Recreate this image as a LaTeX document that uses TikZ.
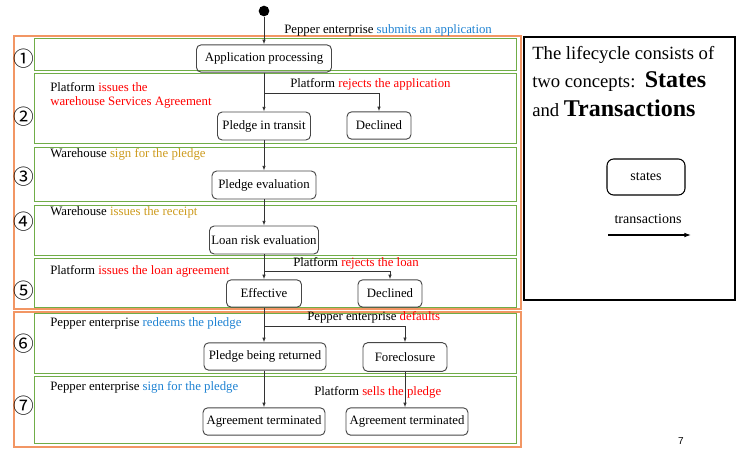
\documentclass[tikz,border=0pt]{standalone}
\usepackage{fontspec}
\setmainfont{Liberation Serif}
\newfontfamily\circfont{Noto Sans CJK SC}
\newfontfamily\pgsans{Liberation Sans}
\usetikzlibrary{arrows.meta}
\definecolor{grn}{RGB}{112,173,71}
\definecolor{orng}{RGB}{242,150,100}
\definecolor{blu}{RGB}{30,130,210}
\definecolor{rd}{RGB}{255,0,0}
\definecolor{gld}{RGB}{205,155,30}
\definecolor{edge}{RGB}{70,70,70}
\begin{document}
\begin{tikzpicture}[x=0.75pt,y=-0.75pt,
  statebox/.style={draw=edge, rounded corners=3.5pt, line width=0.7pt,
    font=\fontsize{9.6}{11}\selectfont, inner sep=0pt, minimum height=20.5pt},
  lbl/.style={font=\fontsize{9.6}{11}\selectfont, inner sep=0pt, anchor=west},
  num/.style={font=\circfont\fontsize{15.5}{15.5}\selectfont, inner sep=0pt},
  conn/.style={draw=black!80, line width=0.6pt, -{Latex[length=3.5pt,width=2.6pt]}},
  greenbox/.style={draw=grn, line width=0.75pt},
  orangebox/.style={draw=orng, line width=0.85pt}]
\useasboundingbox (0,0) rectangle (738,451);

% frames
\draw[orangebox] (14,36) rectangle (521,309);
\draw[orangebox] (14,312) rectangle (521,447);
\draw[greenbox] (34,38) rectangle (516,70);
\draw[greenbox] (34,73) rectangle (516,143);
\draw[greenbox] (34,147) rectangle (516,201);
\draw[greenbox] (34,205) rectangle (516,255);
\draw[greenbox] (34,258) rectangle (516,307);
\draw[greenbox] (34,313) rectangle (516,373);
\draw[greenbox] (34,376) rectangle (516,443);

% circled numbers
\node[num] (n1) at (24,59) {①};
\node[num] (n2) at (24,117) {②};
\node[num] (n3) at (24,177) {③};
\node[num] (n4) at (24,222) {④};
\node[num] (n5) at (24,291) {⑤};
\node[num] (n6) at (24,344) {⑥};
\node[num] (n7) at (24,406) {⑦};

% states
\node[circle, fill=black, minimum size=8pt, inner sep=0pt] (start) at (264,11) {};
\node[statebox, minimum width=101.25pt] (app) at (264,58.5) {Application processing};
\node[statebox, minimum width=69.75pt, minimum height=21pt] (pit) at (264,126) {Pledge in transit};
\node[statebox, minimum width=48pt] (dec1) at (379,125.5) {Declined};
\node[statebox, minimum width=78pt, minimum height=21pt] (pev) at (264,185) {Pledge evaluation};
\node[statebox, minimum width=81.75pt, minimum height=21pt] (lre) at (264,240) {Loan risk evaluation};
\node[statebox, minimum width=56.25pt] (eff) at (264,293.5) {Effective};
\node[statebox, minimum width=48pt] (dec2) at (390,293.5) {Declined};
\node[statebox, minimum width=91.5pt] (pbr) at (265,356.5) {Pledge being returned};
\node[statebox, minimum width=63pt, minimum height=21.5pt] (fc) at (405,357) {Foreclosure};
\node[statebox, minimum width=91.5pt] (agt1) at (264,421.5) {Agreement terminated};
\node[statebox, minimum width=91.5pt] (agt2) at (407,421.5) {Agreement terminated};

% branch points
\coordinate (br1) at (264,93);
\coordinate (br2) at (264,271);
\coordinate (br3) at (264,326);

% connectors
\draw[conn] (start) -- (app);
\draw[conn] (app) -- (pit);
\draw[conn] (br1) -| (dec1);
\draw[conn] (pit) -- (pev);
\draw[conn] (pev) -- (lre);
\draw[conn] (lre) -- (eff);
\draw[conn] (br2) -| (dec2);
\draw[conn] (eff) -- (eff.south |- pbr.north);
\draw[conn] (br3) -| (fc);
\draw[conn] (pbr.south -| agt1.north) -- (agt1);
\draw[conn] (fc.south) -- (fc.south |- agt2.north);

% transaction labels
\node[lbl] (t0) at (284,30) {Pepper enterprise \textcolor{blu}{submits an application}};
\node[lbl, align=left, font=\fontsize{9.6}{10.5}\selectfont] (t1) at (50,95) {Platform \textcolor{rd}{issues the}\\\textcolor{rd}{warehouse Services Agreement}};
\node[lbl] (t2) at (290,84) {Platform \textcolor{rd}{rejects the application}};
\node[lbl] (t3) at (50,154) {Warehouse \textcolor{gld}{sign for the pledge}};
\node[lbl] (t4) at (50,212) {Warehouse \textcolor{gld}{issues the receipt}};
\node[lbl] (t5) at (50,271) {Platform \textcolor{rd}{issues the loan agreement}};
\node[lbl] (t6) at (293,263) {Platform \textcolor{rd}{rejects the loan}};
\node[lbl] (t7) at (50,323) {Pepper enterprise \textcolor{blu}{redeems the pledge}};
\node[lbl] (t8) at (307,317) {Pepper enterprise \textcolor{rd}{defaults}};
\node[lbl] (t9) at (50,387) {Pepper enterprise \textcolor{blu}{sign for the pledge}};
\node[lbl] (t10) at (314,392) {Platform \textcolor{rd}{sells the pledge}};

% legend panel
\draw[line width=0.8pt] (524,37) rectangle (735,300);
\node[anchor=base west, inner sep=0pt, font=\fontsize{14}{16}\selectfont] (l1) at (532,59) {The lifecycle consists of};
\node[anchor=base west, inner sep=0pt, font=\fontsize{14}{16}\selectfont] (l2) at (532,87) {two concepts:\ \ {\fontsize{18}{20}\selectfont\bfseries States}};
\node[anchor=base west, inner sep=0pt, font=\fontsize{14}{16}\selectfont] (l3) at (532,116) {and {\fontsize{18}{20}\selectfont\bfseries Transactions}};
\node[draw=black, rounded corners=5pt, line width=0.8pt, minimum width=58.5pt, minimum height=27pt, inner sep=0pt, font=\fontsize{10.5}{12}\selectfont] (leg) at (646,177) {states};
\node[inner sep=0pt, font=\fontsize{10.5}{12}\selectfont] (legt) at (648,219) {transactions};
\coordinate (la) at (608,235);
\coordinate (lb) at (691,235);
\draw[line width=0.8pt, -{Latex[length=5pt,width=3.5pt]}] (la) -- (lb);
\node[inner sep=0pt, font=\pgsans\fontsize{7.5}{9}\selectfont] (pg) at (681,441) {7};
\end{tikzpicture}
\end{document}
